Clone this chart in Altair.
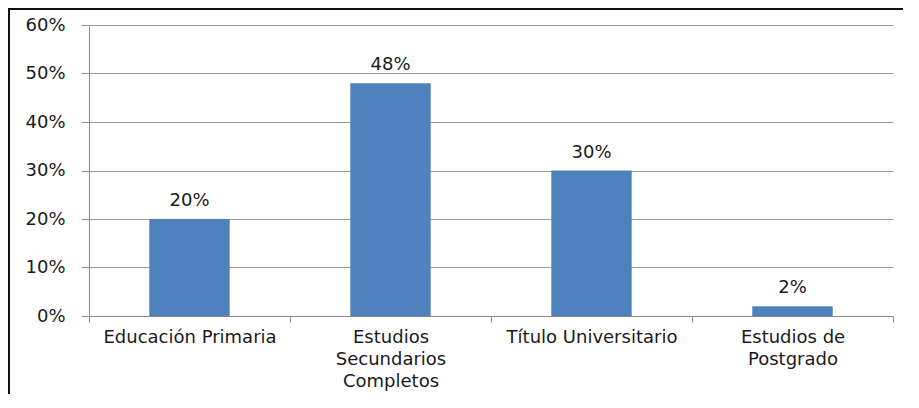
import altair as alt
import pandas as pd

categories = [
    "Educación Primaria",
    "Estudios\nSecundarios\nCompletos",
    "Título Universitario",
    "Estudios de\nPostgrado",
]
values = [0.20, 0.48, 0.30, 0.02]
y_ticks = [0.0, 0.1, 0.2, 0.3, 0.4, 0.5, 0.6]

df = pd.DataFrame({"categoria": categories, "valor": values})

W, H = 804, 291
PL, PT, PR, PB = 81, 17, 10, 78
FS = 18

x_enc = alt.X(
    "categoria:N",
    sort=None,
    scale=alt.Scale(paddingInner=0, paddingOuter=0),
    axis=alt.Axis(
        title=None,
        labelAngle=0,
        labelExpr="split(datum.label, '\\n')",
        labelLineHeight=22,
        labelPadding=6,
        tickBand="extent",
        tickSize=6,
        tickColor="#8c8c8c",
        domainColor="#8c8c8c",
        labelFontSize=FS,
        labelColor="#1a1a1a",
    ),
)

y_enc = alt.Y(
    "valor:Q",
    scale=alt.Scale(domain=[0, 0.6], nice=False),
    axis=alt.Axis(
        title=None,
        values=y_ticks,
        format=".0%",
        tickSize=8,
        labelPadding=16,
        tickColor="#8c8c8c",
        domainColor="#8c8c8c",
        gridColor="#9a9a9a",
        labelFontSize=FS,
        labelColor="#1a1a1a",
    ),
)

base = alt.Chart(df)

bars = base.mark_bar(color="#4F81BD", width=alt.RelativeBandSize(0.4)).encode(
    x=x_enc, y=y_enc
)

labels = base.mark_text(
    dy=-13, baseline="alphabetic", fontSize=FS, color="#1a1a1a"
).encode(
    x=alt.X("categoria:N", sort=None),
    y=alt.Y("valor:Q"),
    text=alt.Text("valor:Q", format=".0%"),
)

frame_data = alt.Data(values=[{}])
frame_top = alt.Chart(frame_data).mark_rule(color="#111111", strokeWidth=2).encode(
    x=alt.value(-PL), x2=alt.value(W + PR), y=alt.value(-PT + 1)
)
frame_left = alt.Chart(frame_data).mark_rule(color="#111111", strokeWidth=2).encode(
    x=alt.value(-PL + 1), y=alt.value(-PT), y2=alt.value(H + PB)
)

chart = (
    alt.layer(bars, labels, frame_top, frame_left)
    .properties(
        width=W,
        height=H,
        autosize=alt.AutoSizeParams(type="none"),
        padding={"left": PL, "top": PT, "right": PR, "bottom": PB},
    )
    .configure(font="DejaVu Sans")
    .configure_view(stroke=None)
    .configure_axisY(grid=True)
)

chart.save("out.html", embed_options={"renderer": "svg", "actions": False})
